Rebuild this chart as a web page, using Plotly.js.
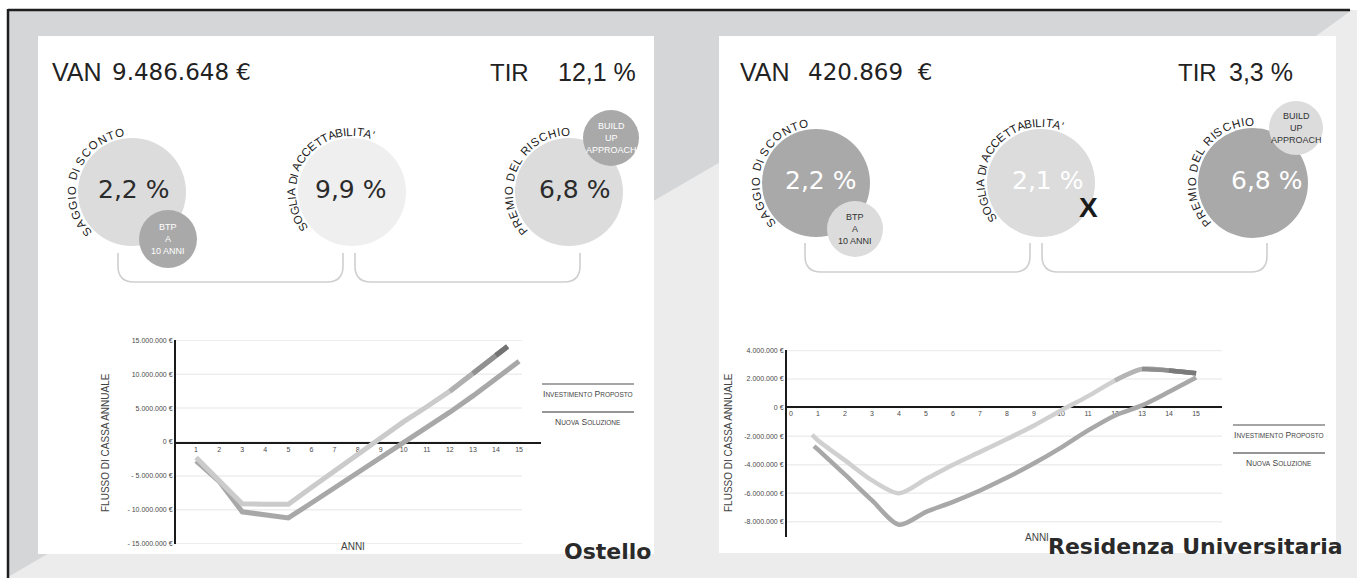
<!DOCTYPE html>
<html>
<head>
<meta charset="utf-8">
<script src="https://cdn.plot.ly/plotly-3.0.1.min.js"></script>
<style>
html,body{margin:0;padding:0;background:#ffffff;}
#chart{width:1357px;height:578px;}
</style>
</head>
<body>
<div id="chart"></div>
<script>
// ================= DATA =================
const panelNames = ['Ostello', 'Residenza Universitaria'];
const vanValues = ['9.486.648 €', '420.869  €'];
const tirValues = ['12,1 %', '3,3 %'];
const saggioValues = ['2,2 %', '2,2 %'];
const sogliaValues = ['9,9 %', '2,1 %'];
const premioValues = ['6,8 %', '6,8 %'];
const circleLabels = ['SAGGIO DI SCONTO', "SOGLIA DI ACCETTABILITA'", 'PREMIO DEL RISCHIO'];
const btpLines = ['BTP', 'A', '10 ANNI'];
const buildLines = ['BUILD', 'UP', 'APPROACH'];
const legendLabels = ['Investimento Proposto', 'Nuova Soluzione'];
const yTitle = 'FLUSSO DI CASSA ANNUALE';
const xTitle = 'ANNI';

// Ostello (values in millions of €)
const ostelloYearsInv = [1,2,3,4,5,6,7,8,9,10,11,12,13,14,15];
const ostelloInv      = [-2.8,-5.8,-10.3,-10.8,-11.2,-9.0,-6.8,-4.6,-2.4,-0.2,2.1,4.4,6.8,9.3,11.9];
const ostelloYearsNuova = [1,2,3,4,5,6,7,8,9,10,11,12,13,14,14.5];
const ostelloNuova      = [-2.3,-5.6,-9.1,-9.2,-9.2,-6.7,-4.3,-1.8,0.7,3.0,5.2,7.5,10.1,12.8,14.1];
const ostelloYTicks = [15,10,5,0,-5,-10,-15];
const ostelloYTickText = ['15.000.000 €','10.000.000 €','5.000.000 €','0 €','- 5.000.000 €','- 10.000.000 €','- 15.000.000 €'];
const ostelloXTicks = [1,2,3,4,5,6,7,8,9,10,11,12,13,14,15];

// Residenza Universitaria (values in millions of €)
const resYearsInv = [0.85,1,2,3,4,5,6,7,8,9,10,11,12,13,14,15];
const resInv      = [-2.7,-2.95,-4.7,-6.5,-8.2,-7.3,-6.6,-5.8,-4.9,-3.9,-2.8,-1.6,-0.55,0.15,1.1,2.1];
const resYearsNuova = [0.78,1,2,3,4,5,6,7,8,9,10,11,12,13,14,15];
const resNuova      = [-1.9,-2.3,-3.7,-5.1,-6.0,-5.0,-4.0,-3.1,-2.2,-1.25,-0.2,0.8,1.9,2.7,2.6,2.4];
const resYTicks = [4,2,0,-2,-4,-6,-8];
const resYTickText = ['4.000.000 €','2.000.000 €','0 €','-2.000.000 €','-4.000.000 €','-6.000.000 €','-8.000.000 €'];
const resXTicks = [0,1,2,3,4,5,6,7,8,9,10,11,12,13,14,15];

// ================= HELPERS =================
const W = 1357, H = 578;
const PX = x => x / W;
const PY = y => 1 - y / H;
const shapes = [];
const annotations = [];
const SANS = '"Liberation Sans", Arial, sans-serif';
const DJ = '"DejaVu Sans", sans-serif';

function rect(x0, y0, x1, y1, fill) {
  shapes.push({type:'rect', xref:'paper', yref:'paper', x0:PX(x0), x1:PX(x1), y0:PY(y1), y1:PY(y0),
    fillcolor:fill, line:{width:0}, layer:'below'});
}
function pathPx(points, fill) {
  let d = points.map((p, i) => (i ? 'L' : 'M') + PX(p[0]) + ',' + PY(p[1])).join(' ') + ' Z';
  shapes.push({type:'path', xref:'paper', yref:'paper', path:d, fillcolor:fill, line:{width:0}, layer:'below'});
}
function lineS(x0, y0, x1, y1, color, width) {
  shapes.push({type:'line', xref:'paper', yref:'paper', x0:PX(x0), x1:PX(x1), y0:PY(y0), y1:PY(y1),
    line:{color:color, width:width}, layer:'below'});
}
function circle(cx, cy, r, fill) {
  shapes.push({type:'circle', xref:'paper', yref:'paper', x0:PX(cx - r), x1:PX(cx + r), y0:PY(cy + r), y1:PY(cy - r),
    fillcolor:fill, line:{width:0}, layer:'below'});
}
function bracket(x1, x2, yTop, yBot, rad, color) {
  const d = `M${PX(x1)},${PY(yTop)} L${PX(x1)},${PY(yBot - rad)} Q${PX(x1)},${PY(yBot)} ${PX(x1 + rad)},${PY(yBot)} ` +
            `L${PX(x2 - rad)},${PY(yBot)} Q${PX(x2)},${PY(yBot)} ${PX(x2)},${PY(yBot - rad)} L${PX(x2)},${PY(yTop)}`;
  shapes.push({type:'path', xref:'paper', yref:'paper', path:d, line:{color:color, width:1.6}, layer:'below'});
}
function text(str, x, y, size, color, family, opts) {
  annotations.push(Object.assign({text:str, x:PX(x), y:PY(y), xref:'paper', yref:'paper', showarrow:false,
    xanchor:'center', yanchor:'middle', font:{size:size, color:color, family:family}}, opts || {}));
}
const cv = document.createElement('canvas').getContext('2d');
function arcText(str, cx, cy, R, a0, a1, size, color) {
  cv.font = size + 'px "Liberation Sans"';
  const chars = Array.from(str);
  const w = chars.map(c => cv.measureText(c).width);
  const centers = [];
  let acc = 0;
  for (let i = 0; i < chars.length; i++) { centers.push(acc + w[i] / 2); acc += w[i]; }
  const span = centers[centers.length - 1] - centers[0];
  chars.forEach((c, i) => {
    if (c === ' ') return;
    const f = (centers[i] - centers[0]) / span;
    const th = a0 + (a1 - a0) * f;
    const rad = th * Math.PI / 180;
    const x = cx + R * Math.cos(rad), y = cy - R * Math.sin(rad);
    text(c, x, y, size, color, SANS, {textangle: 90 - th});
  });
}
function smallCaps(s, small) {
  return s.split(' ').map(wd => wd[0].toUpperCase() + '<span style="font-size:' + small + 'px">' + wd.slice(1).toUpperCase() + '</span>').join(' ');
}

// ================= BACKGROUND =================
rect(8, 10, 1357, 578, '#d5d6d8');
pathPx([[8,578],[8,577],[722,161],[1316,36],[1352,10],[1357,10],[1357,578]], '#ececec');
rect(38, 36, 654, 554, '#ffffff');
rect(719, 36, 1336, 553, '#ffffff');
lineS(8, 10, 1350, 10, '#1e1e1e', 2.5);
lineS(8, 9, 8, 578, '#1e1e1e', 2.5);

// ================= PANELS (headline + circles) =================
const panelCfg = [
  {van:[50,110], tir:[488,556], c:[[132,192,54],[352,192,54],[569,192,54]], btp:[168,239,29], build:[611,138,28],
   bigFill:['#dcdcdc','#efefef','#dcdcdc'], smallFill:'#a9a9a9', numColor:'#2b2b2b', smallText:'#ffffff',
   numX:[133,350,574], numY:189, br:[[118,343],[355,580]], brY:[253,282], title:[607,551]},
  {van:[738,806], tir:[1176,1227], c:[[816,183,54],[1041,183,54],[1253,183,55]], btp:[855,229,28], build:[1296,128,27],
   bigFill:['#a9a9a9','#dcdcdc','#a9a9a9'], smallFill:'#dcdcdc', numColor:'#ffffff', smallText:'#333333',
   numX:[820,1047,1266], numY:180, br:[[805,1030],[1042,1267]], brY:[243,272], title:[1195,546]}
];
panelCfg.forEach((p, k) => {
  text('VAN', p.van[0], 72, 25, '#222', SANS, {xanchor:'left'});
  text(vanValues[k], p.van[1], 72, 23, '#222', DJ, {xanchor:'left'});
  text('TIR', p.tir[0], 72, 24, '#222', SANS, {xanchor:'left'});
  text(tirValues[k], p.tir[1], 72, 25, '#222', SANS, {xanchor:'left'});
  p.c.forEach((c, i) => circle(c[0], c[1], c[2], p.bigFill[i]));
  circle(p.btp[0], p.btp[1], p.btp[2], p.smallFill);
  circle(p.build[0], p.build[1], p.build[2], p.smallFill);
  const vals = [saggioValues[k], sogliaValues[k], premioValues[k]];
  vals.forEach((v, i) => text(v, p.numX[i], p.numY, 25, p.numColor, DJ));
  btpLines.forEach((t, i) => text(t, p.btp[0], p.btp[1] - 12 + 12 * i, 9, p.smallText, SANS));
  buildLines.forEach((t, i) => text(t, p.build[0], p.build[1] - 12 + 12 * i, 9, p.smallText, SANS));
  const arcs = [[221, 102], [215, 70], [220, 93]];
  circleLabels.forEach((lab, i) => arcText(lab, p.c[i][0], p.c[i][1], p.c[i][2] + 6.5, arcs[i][0], arcs[i][1], 11.5, '#222'));
  p.br.forEach(b => bracket(b[0], b[1], p.brY[0], p.brY[1], 16, '#cfcfcf'));
  text('<b>' + panelNames[k] + '</b>', p.title[0], p.title[1], 22, '#2a2a2a', DJ);
});
// X on rejected threshold
text('<b>X</b>', 1088, 208, 28, '#1a1a1a', SANS);

// ================= CHARTS =================
function gridLines(vals, x0, x1, yref) {
  vals.forEach(v => shapes.push({type:'line', xref:'paper', yref:yref, x0:PX(x0), x1:PX(x1), y0:v, y1:v,
    line:{color:'#eeeeee', width:1.5}, layer:'below'}));
}
gridLines(ostelloYTicks, 176, 522, 'y');
gridLines(resYTicks, 787, 1222, 'y2');

const traces = [];
function series(xs, ys, color, width, xa, ya, shape) {
  traces.push({x:xs, y:ys, type:'scatter', mode:'lines', xaxis:xa, yaxis:ya, hoverinfo:'skip',
    line:{color:color, width:width, shape:shape, smoothing:0.8}});
}
function tail(xs, ys, from, color, width, xa, ya, shape) {
  const idx = xs.map((x, i) => i).filter(i => xs[i] >= from);
  series(idx.map(i => xs[i]), idx.map(i => ys[i]), color, width, xa, ya, shape);
}
// Ostello
series(ostelloYearsInv, ostelloInv, '#a8a8a8', 5, 'x', 'y', 'linear');
series(ostelloYearsNuova, ostelloNuova, '#cbcbcb', 5, 'x', 'y', 'linear');
tail(ostelloYearsNuova, ostelloNuova, 12, '#b0b0b0', 5, 'x', 'y', 'linear');
tail(ostelloYearsNuova, ostelloNuova, 13, '#919191', 5, 'x', 'y', 'linear');
tail(ostelloYearsNuova, ostelloNuova, 14, '#737373', 5, 'x', 'y', 'linear');
// Residenza
series(resYearsInv, resInv, '#a8a8a8', 4.5, 'x2', 'y2', 'spline');
series(resYearsNuova, resNuova, '#d0d0d0', 4.5, 'x2', 'y2', 'spline');
tail(resYearsNuova, resNuova, 12, '#b4b4b4', 4.5, 'x2', 'y2', 'spline');
tail(resYearsNuova, resNuova, 13, '#8e8e8e', 4.5, 'x2', 'y2', 'spline');
tail(resYearsNuova, resNuova, 14, '#7a7a7a', 4.5, 'x2', 'y2', 'spline');

const tickFont = {size:7, color:'#4a4a4a', family:SANS};
function xAxis(domPx, range, zeroPx, ticks) {
  return {domain:[PX(domPx[0]), PX(domPx[1])], range:range, anchor:'free', position:PY(zeroPx),
    showline:true, linecolor:'#1a1a1a', linewidth:2, showgrid:false, zeroline:false, ticks:'',
    tickvals:ticks, ticktext:ticks.map(String), tickfont:tickFont, layer:'below traces', fixedrange:true};
}
function yAxis(domPx, range, vals, txt, xa) {
  return {domain:[PY(domPx[1]), PY(domPx[0])], range:range, anchor:xa, showline:true, linecolor:'#1a1a1a',
    linewidth:2, showgrid:false, zeroline:false, ticks:'', tickvals:vals, ticktext:txt, tickfont:tickFont,
    layer:'below traces', fixedrange:true};
}

// axis titles and legends
[[105, 443, 353, 546, 588, 384], [728, 443, 1037, 537, 1279, 425]].forEach(a => {
  text(yTitle, a[0], a[1], 10, '#444', SANS, {textangle:-90});
  text(xTitle, a[2], a[3], 10, '#444', SANS);
  lineS(a[4] - 46, a[5], a[4] + 46, a[5], '#a5a5a5', 2.2);
  text(smallCaps(legendLabels[0], 6.5), a[4], a[5] + 10, 8.5, '#444', SANS);
  lineS(a[4] - 46, a[5] + 28, a[4] + 46, a[5] + 28, '#959595', 2.2);
  text(smallCaps(legendLabels[1], 6.5), a[4], a[5] + 38, 8.5, '#444', SANS);
});

const layout = {
  width:W, height:H, margin:{l:0, r:0, t:0, b:0}, showlegend:false,
  paper_bgcolor:'#ffffff', plot_bgcolor:'rgba(0,0,0,0)',
  xaxis: xAxis([176, 541], [0.13, 15.95], 443, ostelloXTicks),
  yaxis: yAxis([340, 544], [-15.05, 15.05], ostelloYTicks, ostelloYTickText, 'x'),
  xaxis2: xAxis([787, 1222], [-0.15, 15.96], 407, resXTicks),
  yaxis2: yAxis([350, 537], [-9.06, 4.03], resYTicks, resYTickText, 'x2'),
  shapes:shapes, annotations:annotations
};
Plotly.newPlot('chart', traces, layout, {displayModeBar:false, staticPlot:true});
</script>
</body>
</html>
